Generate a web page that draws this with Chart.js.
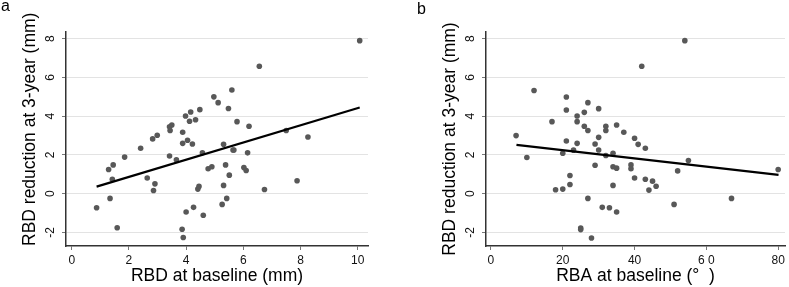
<!DOCTYPE html>
<html>
<head>
<meta charset="utf-8">
<script src="https://cdn.jsdelivr.net/npm/chart.js@4.4.1/dist/chart.umd.min.js"></script>
<style>
  html, body { margin: 0; padding: 0; background: #fff; }
  #wrap { position: relative; width: 789px; height: 287px; overflow: hidden; }
  .panel { position: absolute; top: 0; }
  .tag { position: absolute; font: 16px/16px "Liberation Sans", Arial, sans-serif; color: #000; }
</style>
</head>
<body>
<div id="wrap">
  <canvas id="chartA" class="panel" width="395" height="287" style="left:0"></canvas>
  <canvas id="chartB" class="panel" width="394" height="287" style="left:395px"></canvas>
  <div class="tag" style="left:1px;top:-2px">a</div>
  <div class="tag" style="left:417px;top:1px">b</div>
</div>
<script>
const FONT = '"Liberation Sans", Arial, sans-serif';

// ===== 資料：圖 a =====
const rbdBaseline = [0.87, 1.29, 1.34, 1.42, 1.45, 1.59, 1.85, 2.41, 2.64, 2.83, 2.86, 2.91, 2.99, 3.42, 3.44, 3.50, 3.42, 3.66, 3.86, 3.90,
  3.88, 3.88, 3.98, 4.00, 4.05, 4.12, 4.16, 4.22, 4.26, 4.33, 4.41, 4.45, 4.48, 4.57, 4.60, 4.77, 4.90, 4.97, 5.12, 5.26,
  5.31, 5.31, 5.38, 5.42, 5.48, 5.51, 5.60, 5.64, 5.67, 5.78, 6.02, 6.10, 6.15, 6.20, 6.56, 6.74, 7.50, 7.88, 8.26, 10.07];
const rbdReductionA = [-0.72, 1.25, -0.24, 0.75, 1.49, -1.75, 1.89, 2.35, 0.81, 2.83, 0.17, 0.51, 3.02, 3.46, 3.26, 3.55, 1.95, 1.75, -1.83, -2.26,
  3.17, 2.60, 4.01, -0.94, 2.76, 3.74, 4.22, 2.57, -0.70, 3.82, 0.24, 0.38, 4.34, 2.11, -1.11, 1.29, 1.39, 5.00, 4.70, -0.55,
  2.55, 0.43, 1.49, -0.24, 4.40, 0.96, 5.35, 2.26, 2.26, 3.72, 1.35, 1.20, 2.11, 3.48, 6.58, 0.22, 3.26, 0.67, 2.93, 7.90];
const fitAx = [0.87, 10.07];
const fitAy = [0.37, 4.45];
const xTicksA = [0, 2, 4, 6, 8, 10];
const xTickLabelsA = ["0", "2", "4", "6", "8", "10"];

// ===== 資料：圖 b =====
const rbaBaseline = [7, 10, 12, 17, 18, 20, 20, 21, 21, 21, 22, 22, 23, 24, 24, 24, 25, 25, 26, 26,
  27, 27, 27, 28, 29, 29, 30, 30, 30, 31, 32, 32, 32, 33, 34, 34, 34, 35, 35, 35,
  37, 40, 40, 39, 39, 41, 43, 43, 42, 45, 44, 46, 51, 52, 54, 55, 67, 80];
const rbdReductionB = [3.00, 1.87, 5.33, 3.72, 0.21, 2.09, 0.24, 4.99, 4.32, 2.72, 0.94, 0.48, 2.25, 4.01, 3.72, 2.60, -1.77, -1.85, 4.20, 3.48,
  4.70, 3.26, -0.24, -2.28, 2.57, 1.47, 4.39, 2.91, 2.26, -0.70, 3.48, 3.26, 1.97, -0.72, 2.09, 1.39, 0.43, 3.55, 1.32, -0.94,
  3.17, 2.86, 0.81, 1.49, 1.29, 2.55, 2.35, 0.75, 6.58, 0.65, 0.19, 0.39, -0.55, 1.18, 7.90, 1.71, -0.24, 1.25];
const fitBx = [7.1, 80.1];
const fitBy = [2.52, 0.97];
const xTicksB = [0, 20, 40, 60, 80];
const xTickLabelsB = ["0", "20", "40", "6 0", "80"];

// ===== 共用 y 軸 =====
const yTicks = [-2, 0, 2, 4, 6, 8];
const yTickLabels = ["-2", "0", "2", "4", "6", "8"];
const yTitle = "RBD reduction at 3-year (mm)";

function drawPanel(id, p) {
  const pts = p.xs.map((x, i) => ({ x, y: p.ys[i] }));
  const fit = p.fitX.map((x, i) => ({ x, y: p.fitY[i] }));
  return new Chart(document.getElementById(id), {
    type: "scatter",
    data: {
      datasets: [
        { type: "line", data: fit, borderColor: "#000", borderWidth: 2.2, pointRadius: 0, fill: false, order: 0 },
        { data: pts, backgroundColor: "#585858", borderWidth: 0, pointRadius: 2.8, order: 1 },
      ],
    },
    options: {
      responsive: false,
      animation: false,
      events: [],
      layout: { padding: { left: p.padLeft, right: p.padRight, top: 32, bottom: 0 } },
      plugins: { legend: { display: false }, tooltip: { enabled: false } },
      scales: {
        x: {
          type: "linear",
          min: p.xMin,
          max: p.xMax,
          afterBuildTicks: (s) => { s.ticks = p.xTicks.map((v) => ({ value: v })); },
          afterFit: (s) => { s.height = 41; },
          grid: { drawOnChartArea: false, tickLength: 4, tickColor: "#777", tickWidth: 1 },
          border: { color: "#333", width: 1.5 },
          ticks: {
            font: { family: FONT, size: 12 }, color: "#111", padding: 3, maxRotation: 0, autoSkip: false,
            callback: (v, i) => p.xLabels[i],
          },
          title: { display: true, text: p.xTitle, color: "#000", font: { family: FONT, size: 17.5 }, padding: { top: 0, bottom: 0 } },
        },
        y: {
          type: "linear",
          min: -2.695,
          max: 8.345,
          afterBuildTicks: (s) => { s.ticks = yTicks.map((v) => ({ value: v })); },
          afterFit: (s) => { s.width = 66; },
          grid: { color: "#e3e3e3", lineWidth: 1, tickLength: 4, tickColor: "#777", tickWidth: 1 },
          border: { color: "#333", width: 1.5 },
          ticks: {
            font: { family: FONT, size: 12 }, color: "#111", padding: 6, minRotation: 90, maxRotation: 90,
            crossAlign: "center", autoSkip: false,
            callback: (v, i) => yTickLabels[i],
          },
          title: {
            display: true, text: yTitle, align: p.yAlign, color: "#000",
            font: { family: FONT, size: 17.5 }, padding: { top: 20, bottom: 0 },
          },
        },
      },
    },
  });
}

drawPanel("chartA", {
  xs: rbdBaseline, ys: rbdReductionA, fitX: fitAx, fitY: fitAy,
  xMin: -0.2, xMax: 10.36, xTicks: xTicksA, xLabels: xTickLabelsA,
  xTitle: "RBD at baseline (mm)", padLeft: 0, padRight: 27, yAlign: "start",
});

drawPanel("chartB", {
  xs: rbaBaseline, ys: rbdReductionB, fitX: fitBx, fitY: fitBy,
  xMin: -1.38, xMax: 81.9, xTicks: xTicksB, xLabels: xTickLabelsB,
  xTitle: "RBA at baseline (°  )", padLeft: 25, padRight: 2, yAlign: "center",
});
</script>
</body>
</html>
